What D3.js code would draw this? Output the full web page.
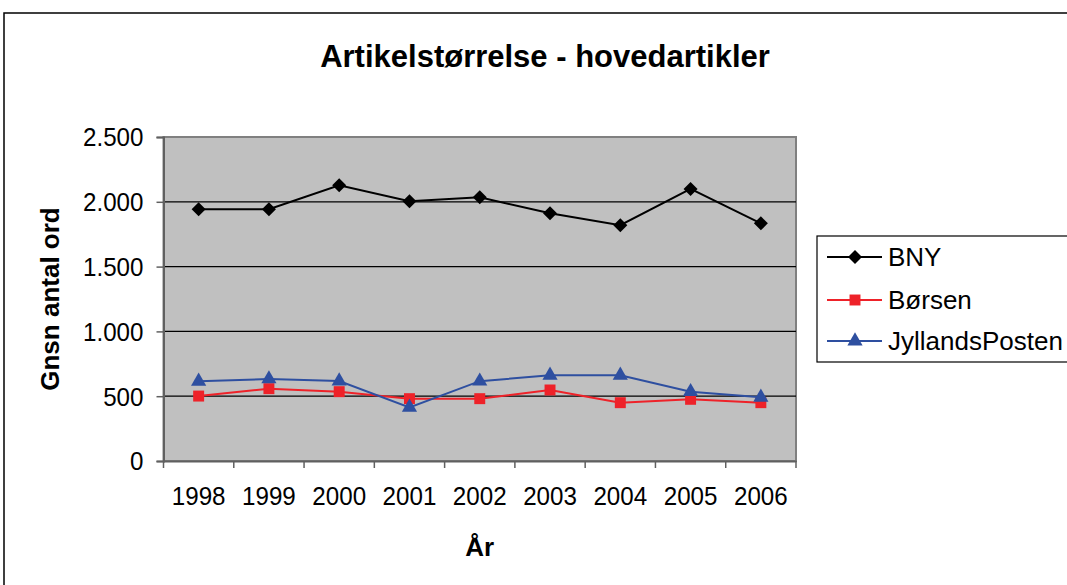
<!DOCTYPE html>
<html><head><meta charset="utf-8">
<script src="https://cdn.jsdelivr.net/npm/d3@7"></script>
<style>
html,body{margin:0;padding:0;background:#fff;}
svg{display:block;font-family:"Liberation Sans",Arial,sans-serif;}
</style></head>
<body><svg id="c" width="1067" height="585"></svg>
<script>
const years = ["1998","1999","2000","2001","2002","2003","2004","2005","2006"];
const bny = [1942,1942,2127,2004,2035,1911,1819,2099,1834];
const borsen = [501,558,535,481,481,548,450,476,450];
const jyllandsPosten = [615,633,617,414,616,661,661,535,491];
const seriesNames = ["BNY","Børsen","JyllandsPosten"];
const yTicks = [0,500,1000,1500,2000,2500];
const title = "Artikelstørrelse - hovedartikler";
const yTitle = "Gnsn antal ord";
const xTitle = "År";

const svg = d3.select("#c");
const L = 163.5, R = 796, T = 137, B = 461;
const x = d3.scaleBand().domain(years).range([L, R]).padding(0);
const y = d3.scaleLinear().domain([0, 2500]).range([B, T]);
const loc = d3.formatLocale({decimal: ",", thousands: ".", grouping: [3], currency: ["", ""]});
const fmt = loc.format(",d");

// outer chart border
svg.append("rect").attr("x", 4).attr("y", 13).attr("width", 1100).attr("height", 600)
  .attr("fill", "#fff").attr("stroke", "#000").attr("stroke-width", 1.5);

// title
svg.append("text").attr("x", 545).attr("y", 67).attr("text-anchor", "middle")
  .attr("font-size", 31).attr("font-weight", "bold").text(title);

// plot area
svg.append("rect").attr("x", L).attr("y", T).attr("width", R - L).attr("height", B - T)
  .attr("fill", "#c0c0c0").attr("stroke", "#808080").attr("stroke-width", 2);

// gridlines
svg.append("g").selectAll("line").data(yTicks.filter(d => d > 0 && d < 2500)).join("line")
  .attr("x1", L).attr("x2", R).attr("y1", d => y(d)).attr("y2", d => y(d))
  .attr("stroke", "#000").attr("stroke-width", 1.2);

// y axis
const ya = svg.append("g").attr("transform", `translate(${L},0)`)
  .call(d3.axisLeft(y).tickValues(yTicks).tickFormat(fmt).tickSize(7).tickPadding(0));
ya.select(".domain").attr("stroke", "#606060").attr("stroke-width", 2);
ya.selectAll(".tick line").attr("stroke", "#606060").attr("stroke-width", 1.5);
ya.selectAll(".tick text").attr("font-size", 26).attr("fill", "#000")
  .attr("font-family", "Liberation Sans, Arial, sans-serif")
  .attr("x", -21).attr("dy", "0.34em")
  .attr("transform", "translate(-21,0) scale(0.93,1) translate(21,0)");
ya.selectAll(".tick text").attr("transform", null).attr("x", null)
  .each(function() {
    d3.select(this).attr("transform", "translate(-20,0) scale(0.93,1)");
  });

// x axis
const xa = svg.append("g").attr("transform", `translate(0,${B})`)
  .call(d3.axisBottom(x).tickSize(0).tickPadding(26));
xa.select(".domain").attr("stroke", "#606060").attr("stroke-width", 2);
xa.selectAll(".tick text").attr("font-size", 26).attr("fill", "#000")
  .attr("font-family", "Liberation Sans, Arial, sans-serif")
  .attr("transform", "scale(0.93,1)");
const bounds = years.map(d => x(d)).concat([x(years[years.length - 1]) + x.bandwidth()]);
xa.append("g").selectAll("line").data(bounds).join("line")
  .attr("x1", d => d).attr("x2", d => d).attr("y1", 0).attr("y2", 7)
  .attr("stroke", "#606060").attr("stroke-width", 1.5);

// axis titles
svg.append("text").attr("transform", `translate(59,${(T + B) / 2}) rotate(-90)`)
  .attr("text-anchor", "middle").attr("font-size", 26).attr("font-weight", "bold").text(yTitle);
svg.append("text").attr("x", (L + R) / 2).attr("y", 556).attr("text-anchor", "middle")
  .attr("font-size", 26).attr("font-weight", "bold").text(xTitle);

const cx = d => x(d) + x.bandwidth() / 2;
const series = [
  {name: seriesNames[0], values: bny, color: "#000000", shape: d3.symbolSquare, size: 98, rot: 45},
  {name: seriesNames[1], values: borsen, color: "#ee2229", shape: d3.symbolSquare, size: 120, rot: 0},
  {name: seriesNames[2], values: jyllandsPosten, color: "#2e4fa0", shape: d3.symbolTriangle, size: 100, rot: 0}
];
const line = d3.line().x((d, i) => cx(years[i])).y(d => y(d));
series.forEach(s => {
  const g = svg.append("g");
  g.append("path").attr("d", line(s.values)).attr("fill", "none")
    .attr("stroke", s.color).attr("stroke-width", 2);
  g.selectAll("path.m").data(s.values).join("path").attr("class", "m")
    .attr("d", d3.symbol().type(s.shape).size(s.size))
    .attr("transform", (d, i) => `translate(${cx(years[i])},${y(d)}) rotate(${s.rot})`)
    .attr("fill", s.color);
});

// legend
const lg = svg.append("g");
lg.append("rect").attr("x", 817).attr("y", 236).attr("width", 300).attr("height", 126)
  .attr("fill", "#fff").attr("stroke", "#000").attr("stroke-width", 1.2);
const rows = [257, 300, 341];
series.forEach((s, i) => {
  lg.append("line").attr("x1", 827).attr("x2", 882).attr("y1", rows[i]).attr("y2", rows[i])
    .attr("stroke", s.color).attr("stroke-width", 2);
  lg.append("path").attr("d", d3.symbol().type(s.shape).size(s.size))
    .attr("transform", `translate(855,${rows[i]}) rotate(${s.rot})`).attr("fill", s.color);
  lg.append("text").attr("x", 888).attr("y", rows[i] + 9).attr("font-size", 26).text(s.name);
});
</script></body></html>
